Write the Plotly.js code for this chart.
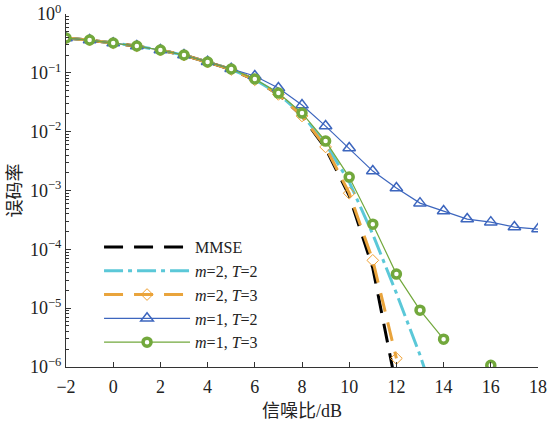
<!DOCTYPE html>
<html>
<head>
<meta charset="utf-8">
<script src="https://cdn.plot.ly/plotly-3.0.1.min.js"></script>
<style>html,body{margin:0;padding:0;background:#fff;}#chart{width:548px;height:423px;}</style>
</head>
<body>
<div id="chart"></div>
<script>
var snr = [-2,-1,0,1,2,3,4,5,6,7,8,9,10,11,12,13,14,15,16,17,18];
var mmse  = [0.39,0.36,0.32,0.285,0.243,0.2,0.152,0.114,0.076,0.043,0.0185,0.0052,8.2e-4,4.8e-5,4.5e-7,null,null,null,null,null,null];
var m2t2  = [0.39,0.36,0.32,0.285,0.243,0.2,0.153,0.115,0.077,0.044,0.0195,0.0062,1.4e-3,1.8e-4,1.8e-5,1.6e-6,1.0e-7,null,null,null,null];
var m2t3  = [0.39,0.36,0.32,0.285,0.243,0.2,0.152,0.114,0.076,0.043,0.0185,0.0055,9.0e-4,6.5e-5,1.4e-6,null,null,null,null,null,null];
var m1t2  = [0.39,0.36,0.32,0.286,0.244,0.201,0.154,0.117,0.0883,0.0551,0.0283,0.01245,0.00526,0.00214,0.0011,6.1e-4,4.47e-4,3.27e-4,2.9e-4,2.39e-4,2.21e-4];
var m1t3  = [0.391,0.361,0.321,0.286,0.244,0.201,0.153,0.116,0.0785,0.0453,0.0207,0.00692,0.00169,2.68e-4,3.79e-5,9.25e-6,2.97e-6,null,1.07e-6,null,null];
var names = ['MMSE','<i>m</i>=2, <i>T</i>=2','<i>m</i>=2, <i>T</i>=3','<i>m</i>=1, <i>T</i>=2','<i>m</i>=1, <i>T</i>=3'];
var yTickVals = [1e-6,1e-5,1e-4,1e-3,1e-2,1e-1,1];
var yTickText = ['10<sup>−6</sup>','10<sup>−5</sup>','10<sup>−4</sup>','10<sup>−3</sup>','10<sup>−2</sup>','10<sup>−1</sup>','10<sup>0</sup>'];
var xTickVals = [-2,0,2,4,6,8,10,12,14,16,18];
var xTickText = ['−2','0','2','4','6','8','10','12','14','16','18'];

var minorVals = [];
for (var e = -6; e < 0; e++) { for (var k = 2; k <= 9; k++) { minorVals.push(k * Math.pow(10, e)); } }

var traces = [
  {x: snr, y: mmse, name: names[0], mode: 'lines', line: {color: '#000000', width: 3, dash: '19px,11px'}},
  {x: snr, y: m2t2, name: names[1], mode: 'lines', line: {color: '#5bc8d8', width: 3, dash: '19px,5px,4px,5px'}},
  {x: snr, y: m2t3, name: names[2], mode: 'lines+markers', line: {color: '#e9a43c', width: 3, dash: '19px,11px'},
   marker: {symbol: 'diamond-open', size: 9, color: '#f0a030', line: {width: 1, color: '#f0a030'}}},
  {x: snr, y: m1t2, name: names[3], mode: 'lines+markers', line: {color: '#3d66be', width: 1.2},
   marker: {symbol: 'triangle-up-open', size: 11, color: '#3d66be', line: {width: 1.5, color: '#3d66be'}}},
  {x: snr, y: m1t3, name: names[4], mode: 'lines+markers', line: {color: '#72a83c', width: 1.2},
   marker: {symbol: 'circle', size: 8, color: '#ffffff', line: {width: 3.5, color: '#72a83c'}}}
];

var layout = {
  width: 548, height: 423,
  margin: {l: 66, r: 10, t: 14, b: 56},
  paper_bgcolor: '#ffffff', plot_bgcolor: '#ffffff',
  font: {family: 'Liberation Serif, "Times New Roman", serif', color: '#222', size: 18},
  showlegend: true,
  legend: {x: 0.07, y: 0.388, xanchor: 'left', yanchor: 'top', bgcolor: 'rgba(0,0,0,0)',
           font: {family: 'Liberation Serif, serif', size: 16, color: '#222'}, itemwidth: 86, tracegroupgap: 0},
  xaxis: {
    range: [-2, 18], tickmode: 'array', tickvals: xTickVals, ticktext: xTickText,
    ticks: 'inside', ticklen: 5, tickcolor: '#333', showline: true, linecolor: '#333', linewidth: 1,
    showgrid: false, zeroline: false, mirror: false, ticklabelstandoff: 3,
    tickfont: {family: 'Liberation Serif, serif', size: 18, color: '#222'},
    title: {text: '信噪比/dB', font: {family: 'Liberation Serif, "Noto Sans CJK SC", serif', size: 18, color: '#222'}, standoff: 8}
  },
  yaxis: {
    type: 'log', range: [-6, 0], tickmode: 'array', tickvals: yTickVals, ticktext: yTickText,
    ticks: 'inside', ticklen: 5, tickcolor: '#333', showline: true, linecolor: '#333', linewidth: 1,
    showgrid: false, zeroline: false,
    minor: {tickmode: 'array', tickvals: minorVals, ticks: 'inside', ticklen: 3, tickcolor: '#333', showgrid: false},
    tickfont: {family: 'Liberation Serif, serif', size: 18, color: '#222'},
    title: {text: '误码率', font: {family: '"Noto Sans CJK SC", serif', size: 18, color: '#222'}, standoff: 5}
  }
};

Plotly.newPlot('chart', traces, layout, {displayModeBar: false, staticPlot: true});
</script>
</body>
</html>
